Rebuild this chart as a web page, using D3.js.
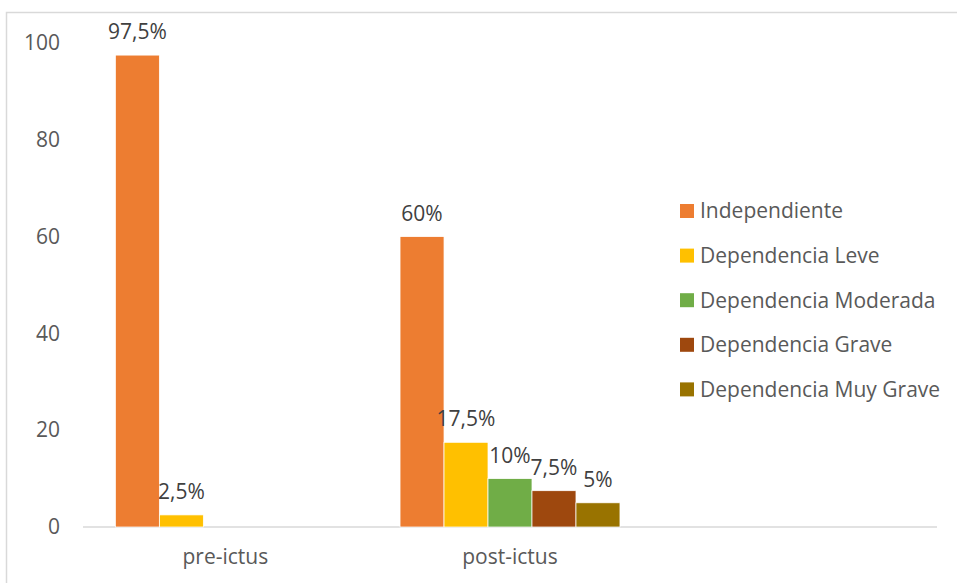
<!DOCTYPE html>
<html><head><meta charset="utf-8">
<script src="https://cdn.jsdelivr.net/npm/d3@7"></script>
<style>body{margin:0;background:#fff}svg{display:block}text{font-family:"Open Sans",sans-serif}</style>
</head><body><svg id="c" width="957" height="583"></svg>
<script>
const categories = ["pre-ictus", "post-ictus", ""];
const series = ["Independiente", "Dependencia Leve", "Dependencia Moderada", "Dependencia Grave", "Dependencia Muy Grave"];
const colors = ["#ED7D31", "#FFC000", "#70AD47", "#9E480E", "#997300"];
const values = [
  [97.5, 2.5, null, null, null],
  [60, 17.5, 10, 7.5, 5],
  [null, null, null, null, null]
];
const labels = [
  ["97,5%", "2,5%", "", "", ""],
  ["60%", "17,5%", "10%", "7,5%", "5%"],
  ["", "", "", "", ""]
];
const yTicks = [0, 20, 40, 60, 80, 100];
const FS = 21;

const svg = d3.select("#c");
svg.append("rect").attr("x", 6.5).attr("y", 12.5).attr("width", 1000).attr("height", 1000)
  .attr("fill", "none").attr("stroke", "#d9d9d9").attr("stroke-width", 1.5);

const x0 = d3.scaleBand().domain(categories).range([83, 937]);
const g = 0.1137;
const x1 = d3.scaleBand().domain(series).range([x0.bandwidth() * g, x0.bandwidth() * (1 - g)]);
const y = d3.scaleLinear().domain([0, 100]).range([527, 43]);

svg.append("line").attr("x1", 83).attr("x2", 937).attr("y1", y(0)).attr("y2", y(0))
  .attr("stroke", "#d9d9d9").attr("stroke-width", 1.5);

const yAxis = d3.axisLeft(y).tickValues(yTicks).tickSize(0).tickPadding(0);
const ya = svg.append("g").attr("transform", "translate(60,0)").call(yAxis);
ya.select(".domain").remove();
ya.selectAll("text").attr("font-size", FS).attr("fill", "#595959").attr("font-family", '"Open Sans",sans-serif');

const xAxis = d3.axisBottom(x0).tickSize(0).tickPadding(0);
const xa = svg.append("g").attr("transform", `translate(0,${y(0) + 22})`).call(xAxis);
xa.select(".domain").remove();
xa.selectAll("text").attr("font-size", FS).attr("fill", "#595959").attr("font-family", '"Open Sans",sans-serif');

categories.forEach((c, ci) => {
  const grp = svg.append("g").attr("transform", `translate(${x0(c)},0)`);
  series.forEach((s, si) => {
    const v = values[ci][si];
    if (v == null) return;
    grp.append("rect").attr("x", x1(s)).attr("width", x1.bandwidth())
      .attr("y", y(v)).attr("height", y(0) - y(v))
      .attr("fill", colors[si]).attr("stroke", "#fff").attr("stroke-width", 0.75);
    grp.append("text").attr("x", x1(s) + x1.bandwidth() / 2).attr("y", y(v) - 16)
      .attr("text-anchor", "middle").attr("font-size", FS).attr("fill", "#404040")
      .text(labels[ci][si]);
  });
});

const leg = svg.append("g").attr("transform", "translate(680,211)");
series.forEach((s, i) => {
  const r = leg.append("g").attr("transform", `translate(0,${i * 44.6})`);
  r.append("rect").attr("x", 0).attr("y", -7).attr("width", 14).attr("height", 14).attr("fill", colors[i]);
  r.append("text").attr("x", 20).attr("y", 0).attr("dy", "0.35em").attr("font-size", FS)
    .attr("fill", "#595959").text(s);
});
</script></body></html>
